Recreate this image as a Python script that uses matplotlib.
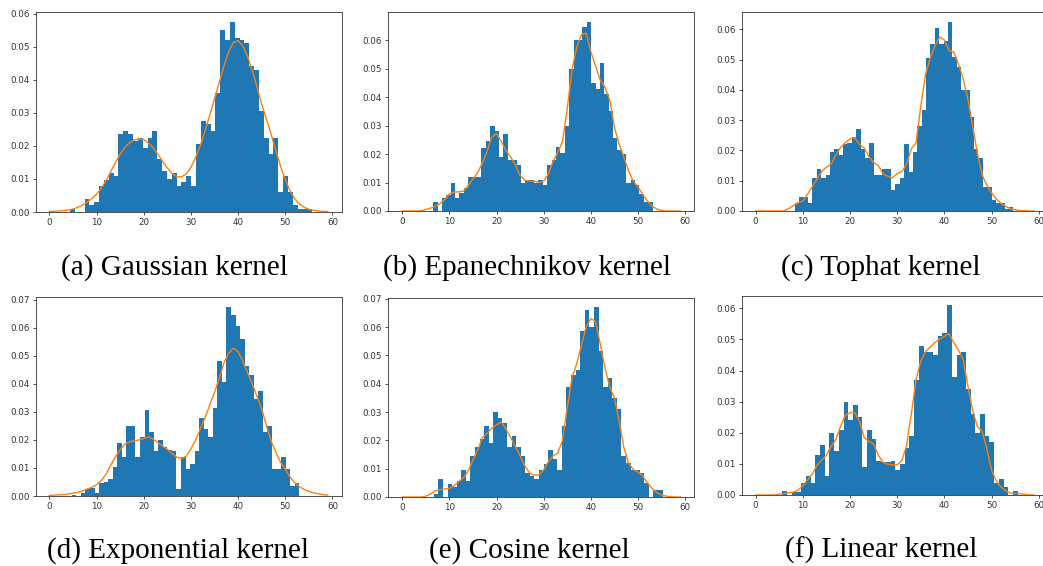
import numpy as np
import matplotlib
matplotlib.use("Agg")
import matplotlib.pyplot as plt
from matplotlib.ticker import MultipleLocator

W, H, DPI = 1043, 566, 100

# ---------------- data ----------------
kde_x = np.arange(0, 60)

captions = ["(a) Gaussian kernel", "(b) Epanechnikov kernel", "(c) Tophat kernel",
            "(d) Exponential kernel", "(e) Cosine kernel", "(f) Linear kernel"]

# histogram range (first / last bin edge) per panel, 50 bins each
hist_lo = [4.36, 6.56, 8.35, 4.75, 6.70, 5.66]
hist_hi = [55.71, 53.10, 54.64, 52.94, 55.22, 55.55]

heights_a = [0.001, 0, 0, 0.004, 0.002, 0.003, 0.008, 0.0098, 0.0118, 0.011,
             0.0235, 0.0245, 0.0235, 0.0215, 0.0225, 0.0195, 0.0225, 0.0245, 0.016, 0.0125,
             0.010, 0.0118, 0.008, 0.009, 0.011, 0.008, 0.0205, 0.0275, 0.0265, 0.0245,
             0.036, 0.055, 0.052, 0.0575, 0.0525, 0.052, 0.051, 0.044, 0.043, 0.0305,
             0.0225, 0.0175, 0.0225, 0.006, 0.011, 0.006, 0.002, 0.001, 0.001, 0.001]
heights_b = [0.003, 0, 0.0045, 0.0055, 0.0097, 0.0045, 0.0065, 0.008, 0.012, 0.012,
             0.012, 0.022, 0.0245, 0.030, 0.028, 0.019, 0.027, 0.018, 0.018, 0.016,
             0.0097, 0.011, 0.011, 0.010, 0.011, 0.009, 0.016, 0.018, 0.0225, 0.0205,
             0.030, 0.050, 0.060, 0.060, 0.0645, 0.0665, 0.045, 0.043, 0.052, 0.041,
             0.035, 0.0255, 0.0215, 0.020, 0.0097, 0.011, 0.009, 0.006, 0.003, 0.003]
heights_c = [0.0025, 0.0045, 0.0045, 0.0025, 0.011, 0.014, 0.011, 0.012, 0.0195, 0.0205,
             0.0185, 0.022, 0.0225, 0.0245, 0.027, 0.0205, 0.0175, 0.0225, 0.012, 0.012,
             0.014, 0.014, 0.007, 0.009, 0.011, 0.022, 0.013, 0.0195, 0.028, 0.0335,
             0.0505, 0.055, 0.0605, 0.055, 0.056, 0.0625, 0.051, 0.0475, 0.040, 0.040,
             0.031, 0.0205, 0.0175, 0.008, 0.008, 0.0035, 0.0025, 0.0025, 0.0005, 0.0012]
heights_d = [0.0005, 0, 0.001, 0.0025, 0.003, 0.001, 0.0045, 0.005, 0.006, 0.0105,
             0.019, 0.014, 0.025, 0.025, 0.014, 0.021, 0.0305, 0.023, 0.016, 0.020,
             0.0175, 0.0165, 0.016, 0.0025, 0.014, 0.0095, 0.0115, 0.016, 0.028, 0.024,
             0.021, 0.0315, 0.048, 0.0405, 0.0675, 0.0645, 0.0605, 0.056, 0.0465, 0.043,
             0.0345, 0.0375, 0.023, 0.025, 0.0095, 0.0095, 0.014, 0.0095, 0.0035, 0.0045]
heights_e = [0.001, 0.0065, 0, 0.0045, 0.0035, 0.0055, 0.0095, 0.0055, 0.0145, 0.0175,
             0.0205, 0.025, 0.019, 0.030, 0.028, 0.026, 0.0175, 0.0215, 0.0175, 0.0145,
             0.0085, 0.0075, 0.0065, 0.0095, 0.0115, 0.0165, 0.0135, 0.0095, 0.025, 0.039,
             0.043, 0.045, 0.0585, 0.066, 0.060, 0.067, 0.0515, 0.039, 0.042, 0.035,
             0.031, 0.0145, 0.012, 0.0095, 0.0095, 0.0085, 0.005, 0, 0.0025, 0.0025]
heights_f = [0.0012, 0, 0.001, 0.001, 0.004, 0.006, 0.004, 0.013, 0.016, 0.006,
             0.020, 0.014, 0.021, 0.030, 0.024, 0.029, 0.025, 0.009, 0.021, 0.018,
             0.011, 0.0105, 0.0105, 0.011, 0.008, 0.010, 0.015, 0.019, 0.037, 0.048,
             0.046, 0.046, 0.045, 0.051, 0.052, 0.061, 0.038, 0.045, 0.046, 0.034,
             0.026, 0.020, 0.026, 0.019, 0.017, 0.004, 0.005, 0.0025, 0, 0.0012]

kde_a = [0.0002, 0.0002, 0.0003, 0.0004, 0.0006, 0.0009, 0.0014, 0.0021, 0.003, 0.0041,
         0.0054, 0.0072, 0.0095, 0.0122, 0.015, 0.0175, 0.0196, 0.021, 0.0218, 0.0221,
         0.0218, 0.0209, 0.0194, 0.0174, 0.0153, 0.0133, 0.0117, 0.0107, 0.0106, 0.0115,
         0.0135, 0.0165, 0.0202, 0.0246, 0.0294, 0.0342, 0.0392, 0.0442, 0.0485, 0.0513,
         0.0518, 0.0502, 0.047, 0.0428, 0.0378, 0.0325, 0.028, 0.0235, 0.0185, 0.0138,
         0.0097, 0.0064, 0.0039, 0.0024, 0.0014, 0.0008, 0.0005, 0.0003, 0.0002, 0.0001]
kde_b = [0, 0, 0, 0, 0.0001, 0.0005, 0.001, 0.0016, 0.0026, 0.004,
         0.006, 0.0067, 0.0067, 0.007, 0.009, 0.0112, 0.0135, 0.0168, 0.021, 0.026,
         0.0272, 0.0245, 0.0212, 0.019, 0.0162, 0.0125, 0.0108, 0.0105, 0.0105, 0.0100,
         0.0105, 0.013, 0.0175, 0.0205, 0.0245, 0.036, 0.0495, 0.0575, 0.062, 0.0625,
         0.056, 0.051, 0.046, 0.0435, 0.039, 0.0295, 0.0235, 0.019, 0.014, 0.0105,
         0.0085, 0.0058, 0.0035, 0.0017, 0.0007, 0.0002, 0, 0, 0, 0]
kde_c = [0, 0, 0, 0, 0, 0, 0, 0.0008, 0.0018, 0.0027,
         0.0032, 0.0055, 0.008, 0.0105, 0.013, 0.0145, 0.0155, 0.0185, 0.021, 0.0225,
         0.0238, 0.0242, 0.022, 0.0208, 0.018, 0.016, 0.015, 0.0123, 0.0115, 0.011,
         0.0124, 0.013, 0.0155, 0.0205, 0.0225, 0.0345, 0.045, 0.0505, 0.0545, 0.0575,
         0.0565, 0.053, 0.0525, 0.0485, 0.0435, 0.037, 0.028, 0.019, 0.012, 0.0085,
         0.006, 0.004, 0.0025, 0.0015, 0.0008, 0.0004, 0.0002, 0.0001, 0, 0]
kde_d = [0.0002, 0.0003, 0.0004, 0.0005, 0.0007, 0.001, 0.0013, 0.0018, 0.0025, 0.0031,
         0.004, 0.0055, 0.0078, 0.011, 0.014, 0.0165, 0.0185, 0.0193, 0.0197, 0.020,
         0.0205, 0.0211, 0.0203, 0.019, 0.0178, 0.0166, 0.0152, 0.0138, 0.0134, 0.0142,
         0.0168, 0.020, 0.024, 0.028, 0.0325, 0.037, 0.042, 0.0475, 0.051, 0.0527,
         0.0515, 0.048, 0.044, 0.040, 0.0355, 0.031, 0.025, 0.0195, 0.0155, 0.012,
         0.0095, 0.0068, 0.0047, 0.0033, 0.0023, 0.0016, 0.0011, 0.0008, 0.0005, 0.0003]
kde_e = [0, 0, 0, 0, 0, 0.0003, 0.001, 0.0022, 0.0026, 0.0028,
         0.003, 0.004, 0.0055, 0.0068, 0.0092, 0.013, 0.0165, 0.021, 0.0225, 0.0243,
         0.0255, 0.0265, 0.024, 0.021, 0.018, 0.0145, 0.011, 0.0085, 0.0077, 0.0078,
         0.0095, 0.0125, 0.0145, 0.0155, 0.020, 0.0315, 0.042, 0.047, 0.0535, 0.060,
         0.063, 0.062, 0.054, 0.0455, 0.039, 0.035, 0.027, 0.0175, 0.012, 0.0097,
         0.0088, 0.0075, 0.005, 0.003, 0.0015, 0.0007, 0.0003, 0.0001, 0, 0]
kde_f = [0, 0, 0, 0, 0, 0.0003, 0.0005, 0.0007, 0.0009, 0.0016,
         0.003, 0.0048, 0.0068, 0.0095, 0.0112, 0.0128, 0.0155, 0.0178, 0.022, 0.0255,
         0.0265, 0.0265, 0.0238, 0.0185, 0.0172, 0.0165, 0.0128, 0.0105, 0.0099, 0.0097,
         0.0097, 0.011, 0.016, 0.026, 0.037, 0.043, 0.046, 0.0475, 0.049, 0.050,
         0.051, 0.0518, 0.049, 0.0465, 0.0435, 0.035, 0.027, 0.022, 0.0205, 0.015,
         0.008, 0.0045, 0.0026, 0.0013, 0.0006, 0.0005, 0.0004, 0.0002, 0, 0]

all_heights = [heights_a, heights_b, heights_c, heights_d, heights_e, heights_f]
all_kde = [kde_a, kde_b, kde_c, kde_d, kde_e, kde_f]

# ---------------- layout (pixels: left, top, right, bottom) ----------------
axes_px = [(35.5, 12.3, 341.7, 212.0), (388.3, 12.3, 694.3, 211.0), (741.7, 12.3, 1047.9, 211.0),
           (35.5, 297.3, 341.7, 496.0), (388.3, 297.7, 694.3, 497.0), (741.7, 295.7, 1047.9, 495.0)]
caption_px = [(174, 275), (527, 275), (881, 275), (178, 558), (529, 558), (881, 558)]

fig = plt.figure(figsize=(W / DPI, H / DPI), dpi=DPI)

for i in range(6):
    l, t, r, b = axes_px[i]
    ax = fig.add_axes([l / W, 1 - b / H, (r - l) / W, (b - t) / H])
    edges = np.linspace(hist_lo[i], hist_hi[i], len(all_heights[i]) + 1)
    ax.bar(edges[:-1], all_heights[i], width=np.diff(edges), align='edge',
           color='#1f77b4', linewidth=0)
    ax.plot(kde_x, all_kde[i], color='#ff7f0e', linewidth=1.0)
    ax.set_xlim(-2.95, 61.95)
    ax.set_ylim(0, max(all_heights[i]) * 1.05)
    ax.xaxis.set_major_locator(MultipleLocator(10))
    ax.yaxis.set_major_locator(MultipleLocator(0.01))
    ax.yaxis.set_major_formatter(matplotlib.ticker.FormatStrFormatter('%.2f'))
    ax.tick_params(labelsize=6.3, length=2.4, width=0.6, pad=2, colors='#333333')
    for s in ax.spines.values():
        s.set_linewidth(0.6)
        s.set_color('#333333')
    cx, cy = caption_px[i]
    fig.text(cx / W, 1 - cy / H, captions[i], ha='center', va='baseline',
             fontsize=21, family='Liberation Serif', color='black')

fig.savefig('out.png', dpi=DPI)
